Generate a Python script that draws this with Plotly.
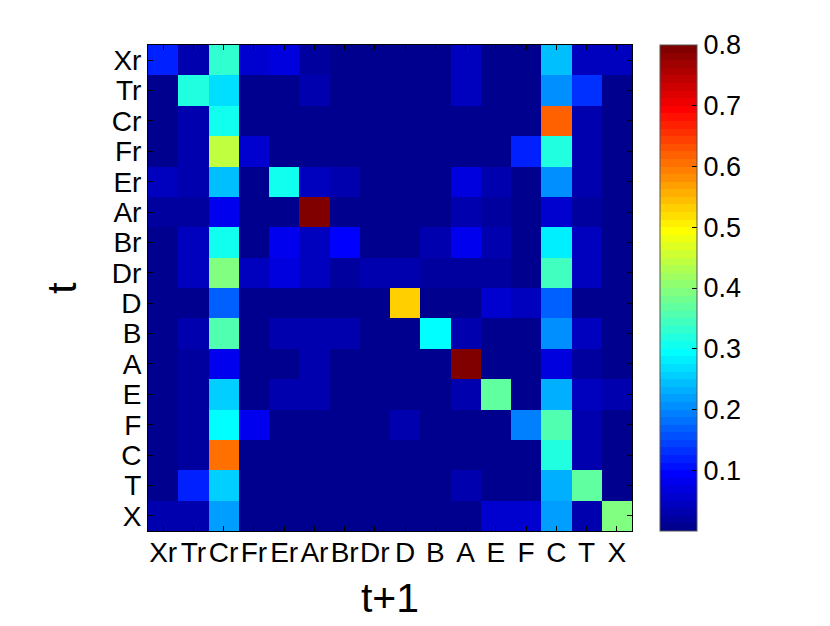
import plotly.graph_objects as go

labels = ["Xr", "Tr", "Cr", "Fr", "Er", "Ar", "Br", "Dr", "D", "B", "A", "E", "F", "C", "T", "X"]

# rows: t (from top), columns: t+1
row_Xr = [0.115, 0.030, 0.334, 0.055, 0.070, 0.015, 0.005, 0.005, 0.005, 0.005, 0.040, 0.005, 0.005, 0.244, 0.040, 0.040]
row_Tr = [0.005, 0.314, 0.264, 0.005, 0.005, 0.030, 0.005, 0.005, 0.005, 0.005, 0.040, 0.005, 0.005, 0.210, 0.133, 0.005]
row_Cr = [0.005, 0.030, 0.304, 0.005, 0.005, 0.005, 0.005, 0.005, 0.005, 0.005, 0.005, 0.005, 0.005, 0.614, 0.030, 0.005]
row_Fr = [0.005, 0.030, 0.444, 0.055, 0.005, 0.005, 0.005, 0.005, 0.005, 0.005, 0.005, 0.005, 0.113, 0.314, 0.030, 0.005]
row_Er = [0.040, 0.030, 0.244, 0.005, 0.304, 0.045, 0.030, 0.005, 0.005, 0.005, 0.065, 0.030, 0.005, 0.205, 0.030, 0.005]
row_Ar = [0.015, 0.015, 0.085, 0.005, 0.005, 0.795, 0.005, 0.005, 0.005, 0.005, 0.030, 0.015, 0.005, 0.055, 0.015, 0.005]
row_Br = [0.005, 0.040, 0.304, 0.005, 0.085, 0.040, 0.095, 0.005, 0.005, 0.030, 0.085, 0.030, 0.005, 0.284, 0.040, 0.005]
row_Dr = [0.005, 0.040, 0.394, 0.045, 0.065, 0.040, 0.015, 0.030, 0.035, 0.015, 0.020, 0.020, 0.005, 0.344, 0.040, 0.005]
row_D = [0.005, 0.005, 0.170, 0.005, 0.005, 0.005, 0.005, 0.005, 0.534, 0.005, 0.005, 0.055, 0.040, 0.170, 0.005, 0.005]
row_B = [0.005, 0.030, 0.354, 0.005, 0.030, 0.030, 0.030, 0.005, 0.005, 0.294, 0.025, 0.005, 0.005, 0.205, 0.045, 0.005]
row_A = [0.005, 0.020, 0.080, 0.005, 0.005, 0.025, 0.005, 0.005, 0.005, 0.005, 0.795, 0.005, 0.005, 0.065, 0.015, 0.005]
row_E = [0.005, 0.020, 0.254, 0.005, 0.030, 0.030, 0.005, 0.005, 0.005, 0.005, 0.025, 0.364, 0.005, 0.234, 0.045, 0.030]
row_F = [0.005, 0.020, 0.294, 0.085, 0.005, 0.005, 0.005, 0.005, 0.025, 0.005, 0.005, 0.005, 0.190, 0.354, 0.030, 0.005]
row_C = [0.005, 0.020, 0.604, 0.005, 0.005, 0.005, 0.005, 0.005, 0.005, 0.005, 0.005, 0.005, 0.005, 0.324, 0.030, 0.005]
row_T = [0.005, 0.113, 0.254, 0.005, 0.005, 0.005, 0.005, 0.005, 0.005, 0.005, 0.025, 0.005, 0.005, 0.234, 0.364, 0.005]
row_X = [0.030, 0.030, 0.215, 0.005, 0.005, 0.005, 0.005, 0.005, 0.005, 0.005, 0.005, 0.055, 0.055, 0.215, 0.035, 0.394]

z = [row_Xr, row_Tr, row_Cr, row_Fr, row_Er, row_Ar, row_Br, row_Dr,
     row_D, row_B, row_A, row_E, row_F, row_C, row_T, row_X]

cbar_ticks = [0.1, 0.2, 0.3, 0.4, 0.5, 0.6, 0.7, 0.8]

# MATLAB jet(64)
def jet(n=64):
    m = 16
    u = [k / m for k in range(1, m + 1)] + [1.0] * (m - 1) + [k / m for k in range(m, 0, -1)]
    g = [8 + k for k in range(1, len(u) + 1)]
    r = [x + m for x in g if x + m <= n]
    b = [x - m for x in g if x - m >= 1]
    g = [x for x in g if x <= n]
    J = [[0.0, 0.0, 0.0] for _ in range(n)]
    for i, idx in enumerate(r):
        J[idx - 1][0] = u[i]
    for i, idx in enumerate(g):
        J[idx - 1][1] = u[i]
    for i, idx in enumerate(b):
        J[idx - 1][2] = u[len(u) - len(b) + i]
    return J

cmap = jet(64)
colorscale = []
for i, c in enumerate(cmap):
    col = "rgb(%d,%d,%d)" % tuple(round(v * 255) for v in c)
    colorscale.append([i / 64, col])
    colorscale.append([(i + 1) / 64, col])

fig = go.Figure(go.Heatmap(
    z=z, x=labels, y=labels,
    colorscale=colorscale, zmin=0, zmax=0.8,
    colorbar=dict(
        thickness=37, thicknessmode="pixels",
        len=1, lenmode="fraction", y=0.5, yanchor="middle",
        x=1.058, xanchor="left", xpad=0, ypad=0,
        tickvals=cbar_ticks, ticktext=["0.1", "0.2", "0.3", "0.4", "0.5", "0.6", "0.7", "0.8"],
        ticks="inside", ticklen=5, tickcolor="black",
        outlinewidth=1, outlinecolor="#555",
        tickfont=dict(size=27, color="black", family="Liberation Sans"),
    ),
))

fig.update_layout(
    template="none",
    width=830, height=626,
    margin=dict(l=140, r=206, t=37, b=103, autoexpand=False),
    paper_bgcolor="white", plot_bgcolor="white",
    font=dict(family="Liberation Sans", color="black"),
    xaxis=dict(
        type="category", tickmode="array", tickvals=labels, ticktext=labels,
        ticks="inside", ticklen=5, tickcolor="black", automargin=False,
        showline=True, linecolor="black", linewidth=1, mirror="ticks",
        showgrid=False, zeroline=False, ticklabelstandoff=-4,
        tickfont=dict(size=28), tickangle=0,
        title=dict(text="t+1", font=dict(size=41), standoff=16),
    ),
    yaxis=dict(
        type="category", tickmode="array", tickvals=labels, ticktext=labels,
        autorange="reversed", ticks="inside", ticklen=5, tickcolor="black", automargin=False,
        showline=True, linecolor="black", linewidth=1, mirror="ticks",
        showgrid=False, zeroline=False,
        tickfont=dict(size=28),
        title=dict(text="t", font=dict(size=41), standoff=22),
    ),
)

fig.write_html("out.html")
